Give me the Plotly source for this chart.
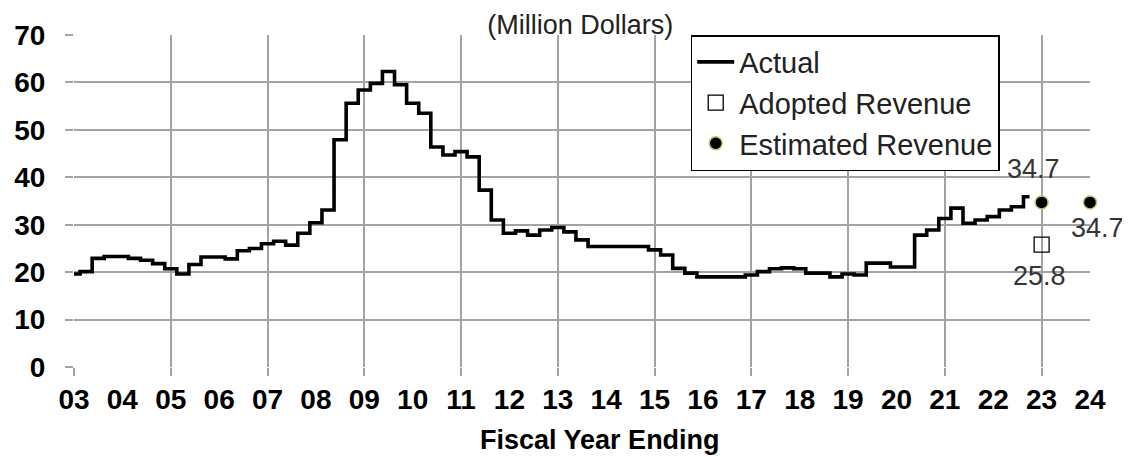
"""Fiscal-year revenue trend with adopted and estimated revenue."""

import plotly.graph_objects as go

FONT = "Liberation Sans, Arial, sans-serif"
GRID = "#a3a3a3"

# quarterly actual revenue (million dollars), first quarter centred on FY 03
start_year = 3
actual = [
    19.6, 20.1, 22.9, 23.3, 23.3, 22.9, 22.5, 21.8, 20.7, 19.6,
    21.6, 23.2, 23.2, 22.8, 24.5, 25.0, 26.0, 26.5, 25.7, 28.2,
    30.4, 33.1, 47.9, 55.6, 58.4, 59.8, 62.3, 59.5, 55.6, 53.5,
    46.4, 44.7, 45.4, 44.3, 37.3, 31.0, 28.2, 28.7, 27.8, 28.9,
    29.4, 28.5, 26.8, 25.4, 25.4, 25.4, 25.4, 25.4, 24.7, 23.6,
    20.8, 19.8, 19.0, 19.0, 19.0, 19.0, 19.4, 20.1, 20.7, 20.9,
    20.7, 19.8, 19.8, 19.0, 19.6, 19.4, 21.9, 21.9, 21.1, 21.1,
    27.8, 28.9, 31.3, 33.5, 30.3, 31.0, 31.7, 33.1, 33.8, 35.9,
]
quarter_x = [start_year + 0.25 * i for i in range(len(actual))]

adopted_years = [23]
adopted_values = [25.8]
estimated_years = [23, 24]
estimated_values = [34.7, 34.7]

tick_years = list(range(3, 25))
tick_labels = [f"{y:02d}" for y in tick_years]
grid_years = list(range(3, 24, 2))
y_ticks = list(range(0, 71, 10))


def _value_labels(fig: go.Figure) -> go.Figure:
    """Write the adopted / estimated values next to their markers."""
    shifts = [(-8, 33), (7, -26)]
    for x, v, (dx, dy) in zip(estimated_years, estimated_values, shifts):
        fig.add_annotation(x=x, y=v, text=f"{v:.1f}", showarrow=False, xshift=dx, yshift=dy)
    for x, v in zip(adopted_years, adopted_values):
        fig.add_annotation(x=x, y=v, text=f"{v:.1f}", showarrow=False, xshift=-2, yshift=-31)
    fig.update_annotations(font=dict(family=FONT, size=27, color="#333333"))
    return fig


fig = go.Figure()
fig.add_trace(go.Scatter(
    x=quarter_x, y=actual, mode="lines", name="Actual", legendgroup="a",
    line=dict(color="black", width=3.6, shape="hvh"),
))
fig.add_trace(go.Scatter(
    x=adopted_years, y=adopted_values, mode="markers", name="Adopted Revenue", legendgroup="b",
    marker=dict(symbol="square-open", size=15, color="black", line=dict(width=1.3)),
    cliponaxis=False,
))
fig.add_trace(go.Scatter(
    x=estimated_years, y=estimated_values, mode="markers", name="Estimated Revenue", legendgroup="c",
    marker=dict(symbol="circle", size=13, color="black", line=dict(color="#c2c27a", width=1.5)),
    cliponaxis=False,
))
# invisible trace on a twin axis so that the grid can sit on every other year
fig.add_trace(go.Scatter(x=[3, 24], y=[0, 0], xaxis="x2", mode="none", showlegend=False, hoverinfo="skip"))

fig = _value_labels(fig)
fig.add_annotation(
    text="<b>Fiscal Year Ending</b>", xref="paper", yref="paper", x=0.518, y=-0.22,
    xanchor="center", yanchor="middle",
    showarrow=False, font=dict(family=FONT, size=27, color="black"),
)

# the page body adds an 8px offset, so the figure is 8px smaller each way
fig.update_layout(
    width=1122,
    height=449,
    margin=dict(l=66, r=40, t=27, b=90),
    paper_bgcolor="white",
    plot_bgcolor="white",
    font=dict(family=FONT, color="black"),
    title=dict(
        text="(Million Dollars)", x=0.51, xanchor="center", y=0.964, yanchor="middle",
        font=dict(family=FONT, size=27, color="#222222"),
    ),
    xaxis=dict(
        range=[3, 24], tickvals=tick_years, ticktext=tick_labels, showgrid=False, zeroline=False,
        ticks="", ticklabelstandoff=13, automargin=False,
        tickfont=dict(family=FONT, size=28, color="black", weight="bold"),
    ),
    xaxis2=dict(
        range=[3, 24], overlaying="x", side="bottom", tickvals=grid_years, showticklabels=False,
        showgrid=True, gridcolor=GRID, gridwidth=1.5, zeroline=False,
        ticks="outside", ticklen=8, tickcolor=GRID, tickwidth=1.5,
    ),
    yaxis=dict(
        range=[0, 70], tickvals=y_ticks, showgrid=True, gridcolor=GRID, gridwidth=1.5, zeroline=False,
        ticks="outside", ticklen=8, tickcolor=GRID, tickwidth=1.5, ticklabelstandoff=14, automargin=False,
        tickfont=dict(family=FONT, size=28, color="black", weight="bold"),
    ),
    legend=dict(
        x=0.607, y=1.0, xanchor="left", yanchor="top",
        bgcolor="white", bordercolor="black", borderwidth=1.5,
        font=dict(family=FONT, size=29, color="#222222"), tracegroupgap=0,
        itemwidth=37,
    ),
    showlegend=True,
)

fig.write_html("out.html")
